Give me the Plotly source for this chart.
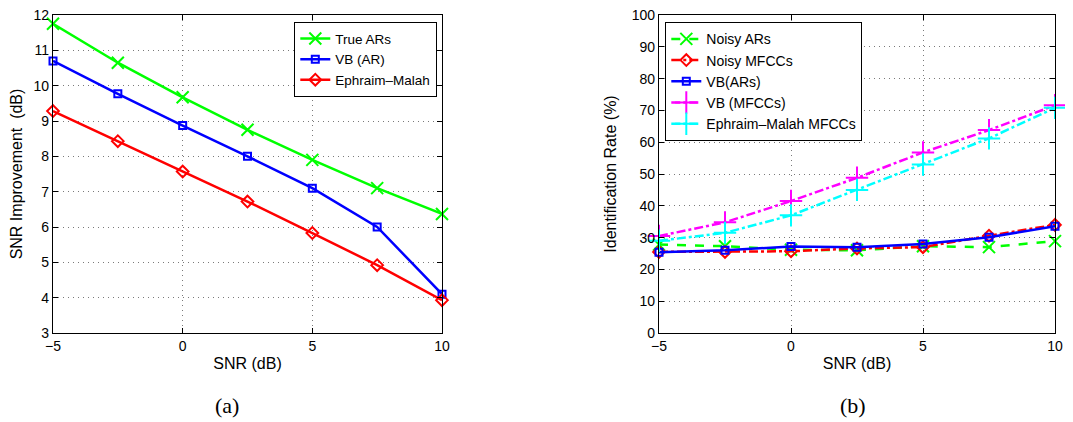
import plotly.graph_objects as go

snr = [-5, -2.5, 0, 2.5, 5, 7.5, 10]

# Panel (a): SNR improvement (dB)
true_ars = [11.75, 10.65, 9.67, 8.75, 7.9, 7.1, 6.37]
vb_ar = [10.7, 9.77, 8.87, 8.0, 7.1, 6.0, 4.1]
ephraim_malah = [9.28, 8.43, 7.57, 6.72, 5.83, 4.92, 3.93]

# Panel (b): identification rate (%)
noisy_ars = [27.8, 27.3, 26.2, 26.0, 27.3, 27.0, 28.9]
noisy_mfccs = [25.5, 25.5, 25.7, 26.6, 27.0, 30.6, 34.0]
vb_ars = [25.4, 26.0, 27.2, 27.0, 28.0, 30.1, 33.6]
vb_mfccs = [30.5, 34.8, 41.5, 48.8, 56.8, 63.8, 71.6]
em_mfccs = [29.0, 31.5, 37.0, 45.0, 53.0, 61.2, 70.8]

x_ticks = [-5, 0, 5, 10]
x_ticktext = ["\u22125", "0", "5", "10"]

W, H = 1073, 422
O = 8  # page body margin
FW, FH = W - O, H - O
FONT = "Liberation Sans"
L = 53 - O
R = FW - (1055 - O)
T = 15 - O
B = FH - (333 - O)
PW = FW - L - R
PH = FH - T - B

def px(x):
    return (x - O - L) / PW

def py(y):
    return (FH - (y - O) - B) / PH

fig = go.Figure()

def add(x, y, name, color, symbol, dash, xa, ya, legend, size=10):
    fig.add_trace(go.Scatter(
        x=x, y=y, name=name, mode="lines+markers",
        line=dict(color=color, width=2.5, dash=dash),
        marker=dict(symbol=symbol, size=size, color=color,
                    line=dict(color=color, width=2)),
        xaxis=xa, yaxis=ya, legend=legend, cliponaxis=False))

add(snr, true_ars, "True ARs", "#00ff00", "x-thin", "solid", "x", "y", "legend", 12)
add(snr, vb_ar, "VB (AR)", "#0000ff", "square-open", "solid", "x", "y", "legend", 7)
add(snr, ephraim_malah, "Ephraim\u2013Malah", "#ff0000", "diamond-open", "solid", "x", "y", "legend", 9)

add(snr, noisy_ars, "Noisy ARs", "#00ff00", "x-thin", "dash", "x2", "y2", "legend2", 12)
add(snr, noisy_mfccs, "Noisy MFCCs", "#ff0000", "diamond-open", "dashdot", "x2", "y2", "legend2", 9)
add(snr, vb_ars, "VB(ARs)", "#0000ff", "square-open", "solid", "x2", "y2", "legend2", 7)
add(snr, vb_mfccs, "VB (MFCCs)", "#ff00ff", "cross-thin", "dashdot", "x2", "y2", "legend2", 16)
add(snr, em_mfccs, "Ephraim\u2013Malah MFCCs", "#00ffff", "cross-thin", "dashdot", "x2", "y2", "legend2", 16)

ax_common = dict(showline=True, linecolor="black", linewidth=1.3, mirror="ticks",
                 ticks="inside", ticklen=5, tickcolor="black",
                 showgrid=True, gridcolor="#7a7a7a", griddash="1px,4px", gridwidth=1,
                 zeroline=False, automargin=False, ticklabeloverflow="allow",
                 tickfont=dict(family=FONT, size=14, color="black"))

fig.update_layout(
    width=FW, height=FH, margin=dict(l=L, r=R, t=T, b=B),
    paper_bgcolor="white", plot_bgcolor="white",
    font=dict(family=FONT, size=14, color="black"),
    xaxis=dict(domain=[0, px(442)], range=[-5, 10], tickvals=x_ticks, ticktext=x_ticktext,
               title=dict(text="SNR (dB)", font=dict(size=16), standoff=4), **ax_common),
    yaxis=dict(domain=[0, 1], range=[3, 12], dtick=1, anchor="x",
               title=dict(text="SNR Improvement  (dB)", font=dict(size=16), standoff=9), **ax_common),
    xaxis2=dict(domain=[px(659), 1], range=[-5, 10], tickvals=x_ticks, ticktext=x_ticktext,
                anchor="y2", title=dict(text="SNR (dB)", font=dict(size=16), standoff=4), **ax_common),
    yaxis2=dict(domain=[0, 1], range=[0, 100], dtick=10, anchor="x2",
                title=dict(text="Identification Rate (%)", font=dict(size=16), standoff=11), **ax_common),
    legend=dict(x=px(437), xanchor="right", y=py(22), yanchor="top",
                bgcolor="white", bordercolor="black", borderwidth=1.3,
                font=dict(family=FONT, size=13.5), tracegroupgap=0, itemwidth=30),
    legend2=dict(x=px(665), xanchor="left", y=py(22), yanchor="top",
                 bgcolor="white", bordercolor="black", borderwidth=1.3,
                 font=dict(family=FONT, size=14), tracegroupgap=0, itemwidth=30),
    showlegend=True,
)

fig.add_annotation(x=px(227), y=py(405), xref="paper", yref="paper", text="(a)", showarrow=False,
                   xanchor="center", yanchor="middle",
                   font=dict(family="Liberation Serif", size=22, color="black"))
fig.add_annotation(x=px(853), y=py(405), xref="paper", yref="paper", text="(b)", showarrow=False,
                   xanchor="center", yanchor="middle",
                   font=dict(family="Liberation Serif", size=22, color="black"))

fig.write_html("out.html")
